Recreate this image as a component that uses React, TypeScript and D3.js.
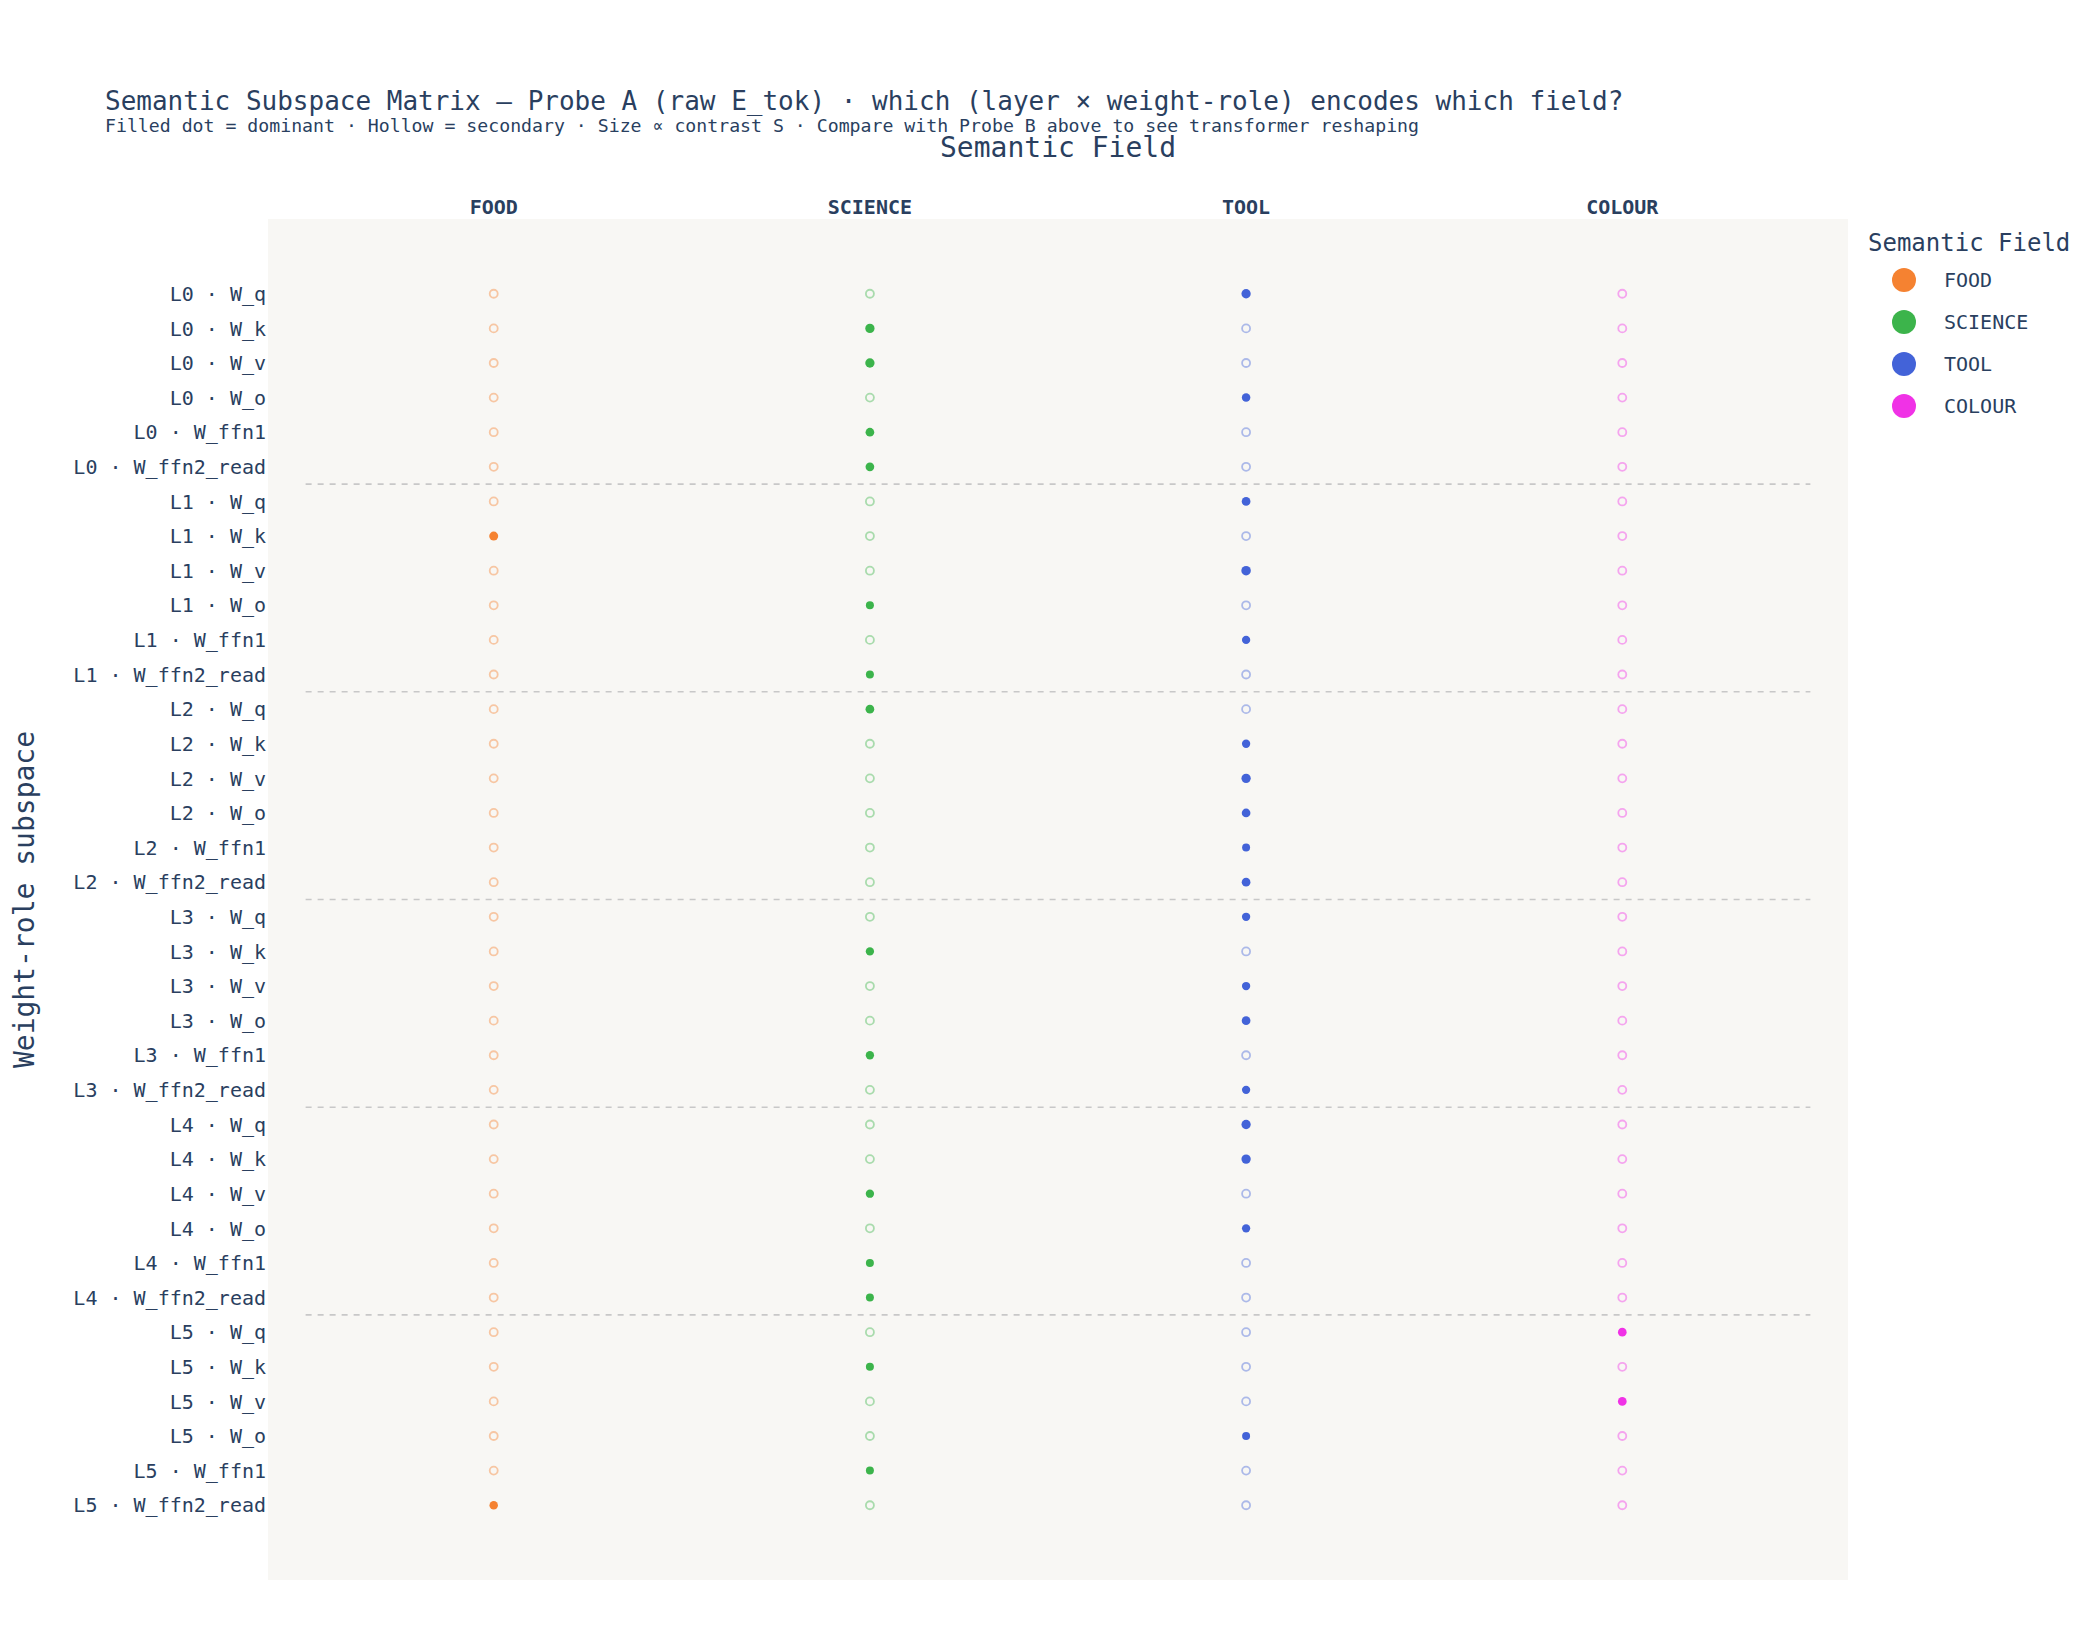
import React from "react";
import * as d3 from "d3";

const FIELDS = ["FOOD", "SCIENCE", "TOOL", "COLOUR"];
const FIELD_COLORS = ["#f58231", "#3cb44b", "#4363d8", "#f032e6"];
const LAYERS = ["L0", "L1", "L2", "L3", "L4", "L5"];
const ROLES = ["W_q", "W_k", "W_v", "W_o", "W_ffn1", "W_ffn2_read"];

// dominant field per (layer × role), row order L0 W_q ... L5 W_ffn2_read
const DOMINANT = [
  "TOOL", "SCIENCE", "SCIENCE", "TOOL", "SCIENCE", "SCIENCE",
  "TOOL", "FOOD", "TOOL", "SCIENCE", "TOOL", "SCIENCE",
  "SCIENCE", "TOOL", "TOOL", "TOOL", "TOOL", "TOOL",
  "TOOL", "SCIENCE", "TOOL", "TOOL", "SCIENCE", "TOOL",
  "TOOL", "TOOL", "SCIENCE", "TOOL", "SCIENCE", "SCIENCE",
  "COLOUR", "SCIENCE", "COLOUR", "TOOL", "SCIENCE", "FOOD",
];

// contrast S of the dominant field
const CONTRAST = [
  0.46, 0.46, 0.46, 0.3, 0.34, 0.34,
  0.34, 0.4, 0.5, 0.2, 0.26, 0.2,
  0.34, 0.26, 0.46, 0.34, 0.2, 0.34,
  0.26, 0.26, 0.26, 0.34, 0.26, 0.26,
  0.46, 0.46, 0.26, 0.26, 0.2, 0.2,
  0.34, 0.2, 0.34, 0.2, 0.2, 0.3,
];

const TITLE = "Semantic Subspace Matrix — Probe A (raw E_tok) · which (layer × weight-role) encodes which field?";
const SUBTITLE = "Filled dot = dominant · Hollow = secondary · Size ∝ contrast S · Compare with Probe B above to see transformer reshaping";
const X_TITLE = "Semantic Field";
const Y_TITLE = "Weight-role subspace";
const LEGEND_TITLE = "Semantic Field";

const FONT = "'DejaVu Sans Mono', monospace";
const TEXT = "#2a3f5f";
const W = 2100;
const H = 1640;

export default function App() {
  const rows = LAYERS.flatMap((l) => ROLES.map((r) => `${l} · ${r}`));
  const left = 268, right = 1848, top = 219, bottom = 1580;
  const x = d3.scaleLinear().domain([-0.6, FIELDS.length - 1 + 0.6]).range([left, right]);
  const y = d3.scaleLinear().domain([-2.16, rows.length - 1 + 2.16]).range([top, bottom]);
  const rScale = d3.scaleLinear().domain([0.2, 0.5]).range([4, 4.75]);
  const color = d3.scaleOrdinal<string, string>().domain(FIELDS).range(FIELD_COLORS);

  const separators = LAYERS.slice(1).map((_, i) => (i + 1) * ROLES.length - 0.5);

  return (
    <svg width={W} height={H} style={{ position: "absolute", left: 0, top: 0, background: "#fff" }} fontFamily={FONT}>
      <rect x={0} y={0} width={W} height={H} fill="#ffffff" />
      <rect x={left} y={top} width={right - left} height={bottom - top} fill="#f8f7f4" />

      {separators.map((s) => (
        <line key={s} x1={x(-0.5)} x2={x(FIELDS.length - 0.5)} y1={y(s)} y2={y(s)}
          stroke="#c8c8c8" strokeWidth={1.6} strokeDasharray="6,6" />
      ))}

      {rows.map((row, i) =>
        FIELDS.map((f, j) => {
          const dom = DOMINANT[i] === f;
          return dom ? (
            <circle key={`${i}-${j}`} cx={x(j)} cy={y(i)} r={rScale(CONTRAST[i])} fill={color(f)} />
          ) : (
            <circle key={`${i}-${j}`} cx={x(j)} cy={y(i)} r={4} fill="none" stroke={color(f)}
              strokeOpacity={0.42} strokeWidth={1.8} />
          );
        })
      )}

      {rows.map((row, i) => (
        <text key={row} x={266} y={y(i)} dy="0.36em" textAnchor="end" fontSize={20} fill={TEXT}>{row}</text>
      ))}

      {FIELDS.map((f, j) => (
        <text key={f} x={x(j)} y={214} textAnchor="middle" fontSize={20} fontWeight="bold" fill={TEXT}>{f}</text>
      ))}

      <text x={105} y={110} fontSize={26} fill={TEXT}>{TITLE}</text>
      <text x={105} y={132} fontSize={18.2} fill={TEXT}>{SUBTITLE}</text>
      <text x={(left + right) / 2} y={157} textAnchor="middle" fontSize={28} fill={TEXT}>{X_TITLE}</text>
      <text transform={`translate(34,${(top + bottom) / 2}) rotate(-90)`} textAnchor="middle" fontSize={28} fill={TEXT}>{Y_TITLE}</text>

      <text x={1868} y={251} fontSize={24} fill={TEXT}>{LEGEND_TITLE}</text>
      {FIELDS.map((f, j) => (
        <g key={f} transform={`translate(0,${280 + j * 42})`}>
          <circle cx={1904} cy={0} r={12} fill={color(f)} />
          <text x={1944} y={0} dy="0.36em" fontSize={20} fill={TEXT}>{f}</text>
        </g>
      ))}
    </svg>
  );
}
